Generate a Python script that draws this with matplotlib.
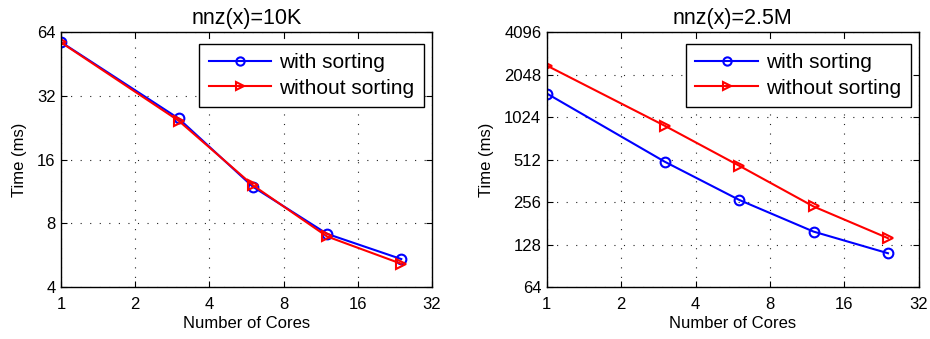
import matplotlib
matplotlib.use("Agg")
import matplotlib.pyplot as plt
from matplotlib.ticker import FixedLocator, FixedFormatter, NullLocator

plt.rcParams['font.family'] = ['Liberation Sans', 'DejaVu Sans']

cores = [1, 3, 6, 12, 24]
small_with = [57.4, 25.0, 11.9, 7.13, 5.42]
small_without = [57.2, 24.4, 12.1, 6.93, 5.15]
large_with = [1503, 494, 265, 158, 111]
large_without = [2371, 888, 463, 238, 142]

x_ticks = [1, 2, 4, 8, 16, 32]
y_ticks_small = [4, 8, 16, 32, 64]
y_ticks_large = [64, 128, 256, 512, 1024, 2048, 4096]

titles = ["nnz(x)=10K", "nnz(x)=2.5M"]
labels = ["with sorting", "without sorting"]

fig = plt.figure(figsize=(9.3, 3.39), dpi=100)
ax1 = fig.add_axes([0.0656, 0.1534, 0.399, 0.752])
ax2 = fig.add_axes([0.588, 0.1534, 0.400, 0.752])

for ax, yw, yo, yt, title in [(ax1, small_with, small_without, y_ticks_small, titles[0]),
                               (ax2, large_with, large_without, y_ticks_large, titles[1])]:
    ax.plot(cores, yw, color='#0000ff', lw=1.5, marker='o', ms=7, mfc='none', mec='#0000ff', mew=1.5, label=labels[0])
    ax.plot(cores, yo, color='#ff0000', lw=1.5, marker='>', ms=7, mfc='none', mec='#ff0000', mew=1.5, label=labels[1])
    ax.set_xscale('log', base=2)
    ax.set_yscale('log', base=2)
    ax.set_xlim(x_ticks[0], x_ticks[-1])
    ax.set_ylim(yt[0], yt[-1])
    ax.xaxis.set_major_locator(FixedLocator(x_ticks))
    ax.xaxis.set_major_formatter(FixedFormatter([str(v) for v in x_ticks]))
    ax.yaxis.set_major_locator(FixedLocator(yt))
    ax.yaxis.set_major_formatter(FixedFormatter([str(v) for v in yt]))
    ax.xaxis.set_minor_locator(NullLocator())
    ax.yaxis.set_minor_locator(NullLocator())
    ax.tick_params(direction='in', top=True, right=True, labelsize=12, length=4)
    ax.tick_params(axis='x', pad=7)
    ax.tick_params(axis='y', pad=4)
    ax.grid(True, linestyle=(0, (1, 7.6)), color='#222222', lw=0.8)
    ax.set_xlabel("Number of Cores", fontsize=12, labelpad=3)
    ax.set_ylabel("Time (ms)", fontsize=12, labelpad=7)
    ax.set_title(title, fontsize=15.5, pad=6)
    for s in ax.spines.values():
        s.set_linewidth(1.0)
    leg = ax.legend(loc='upper right', bbox_to_anchor=(0.978, 0.953), fontsize=15,
                    fancybox=False, framealpha=1, edgecolor='black', borderaxespad=0,
                    handlelength=3, handletextpad=0.4, borderpad=0.45, labelspacing=0.3,
                    markerscale=0.85)
    leg.get_frame().set_linewidth(1.0)

fig.savefig("out.png", dpi=100)
